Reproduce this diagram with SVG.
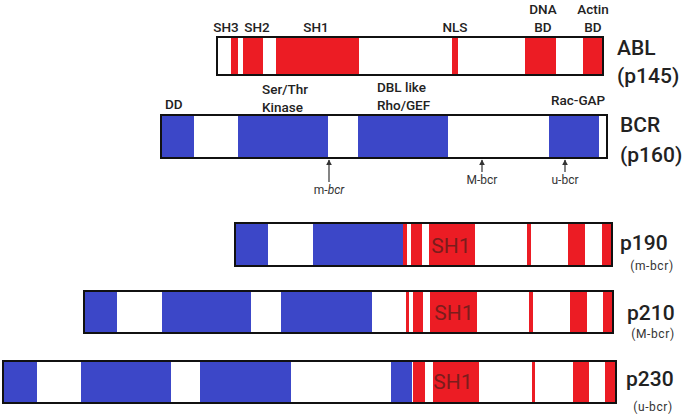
<svg xmlns="http://www.w3.org/2000/svg" width="685" height="417" viewBox="0 0 685 417">
<defs>
<style>
.bar{fill:#fff;}
.bd{fill:none;stroke:#111;stroke-width:2;}
.b{fill:#3c47c8;}
.r{fill:#ec1c24;}
.lab{font-family:Roboto,"Liberation Sans",sans-serif;font-weight:500;font-size:13.5px;fill:#222;}
.big{font-family:Roboto,"Liberation Sans",sans-serif;font-weight:500;font-size:21px;fill:#222;}
.sm{font-family:Roboto,"Liberation Sans",sans-serif;font-size:12px;fill:#333;text-anchor:middle;}
.sub{font-family:Roboto,"Liberation Sans",sans-serif;font-size:12px;fill:#333;text-anchor:middle;letter-spacing:0.6px;}
.sh1{font-family:Roboto,"Liberation Sans",sans-serif;font-size:21px;fill:#7b1c1c;text-anchor:middle;}
.arr{stroke:#333;stroke-width:1.2;fill:none;marker-end:url(#ah);}
</style>
<marker id="ah" viewBox="0 0 10 10" refX="9" refY="5" markerWidth="6" markerHeight="6" orient="auto" markerUnits="userSpaceOnUse">
<path d="M0,0 L10,5 L0,10 z" fill="#333"/>
</marker>
</defs>
<rect width="685" height="417" fill="#fff"/>

<g id="abl">
<rect class="bar" x="217" y="37" width="386" height="38"/>
<rect class="r" x="231" y="37" width="7" height="38"/>
<rect class="r" x="243" y="37" width="20" height="38"/>
<rect class="r" x="276" y="37" width="83" height="38"/>
<rect class="r" x="452" y="37" width="6" height="38"/>
<rect class="r" x="525" y="37" width="31" height="38"/>
<rect class="r" x="583" y="37" width="20" height="38"/>
<rect class="bd" x="217" y="37" width="386" height="38"/>
<text class="lab" x="226" y="32" text-anchor="middle">SH3</text>
<text class="lab" x="257" y="32" text-anchor="middle">SH2</text>
<text class="lab" x="316" y="32" text-anchor="middle">SH1</text>
<text class="lab" x="455" y="32" text-anchor="middle">NLS</text>
<text class="lab" x="543" y="14" text-anchor="middle">DNA</text>
<text class="lab" x="543" y="32" text-anchor="middle">BD</text>
<text class="lab" x="593" y="14" text-anchor="middle">Actin</text>
<text class="lab" x="593" y="32" text-anchor="middle">BD</text>
<text class="big" x="617" y="55">ABL</text>
<text class="big" x="617" y="83">(p145)</text>
</g>

<g id="bcr">
<rect class="bar" x="161" y="115" width="446" height="43"/>
<rect class="b" x="161" y="115" width="33" height="43"/>
<rect class="b" x="238" y="115" width="90" height="43"/>
<rect class="b" x="358" y="115" width="90" height="43"/>
<rect class="b" x="549" y="115" width="50" height="43"/>
<rect class="bd" x="161" y="115" width="446" height="43"/>
<text class="lab" x="165" y="109">DD</text>
<text class="lab" x="262" y="94">Ser/Thr</text>
<text class="lab" x="262" y="112">Kinase</text>
<text class="lab" x="377" y="92">DBL like</text>
<text class="lab" x="377" y="110">Rho/GEF</text>
<text class="lab" x="551" y="105">Rac-GAP</text>
<text class="big" x="620" y="132">BCR</text>
<text class="big" x="620" y="162">(p160)</text>
<text class="sm" x="329" y="194">m-<tspan font-style="italic">bcr</tspan></text>
<text class="sm" x="482" y="184">M-bcr</text>
<text class="sm" x="565" y="184">u-bcr</text>
</g>

<g id="connectors">
<line class="arr" x1="329" y1="182" x2="329" y2="160"/>
<line class="arr" x1="482" y1="172" x2="482" y2="160"/>
<line class="arr" x1="565" y1="172" x2="565" y2="160"/>
</g>

<g id="p190">
<rect class="bar" x="235" y="223" width="377" height="43"/>
<rect class="b" x="235" y="223" width="33" height="43"/>
<rect class="b" x="313" y="223" width="90" height="43"/>
<rect class="r" x="403" y="223" width="4" height="43"/>
<rect class="r" x="411" y="223" width="11" height="43"/>
<rect class="r" x="429" y="223" width="46" height="43"/>
<rect class="r" x="527" y="223" width="4" height="43"/>
<rect class="r" x="568" y="223" width="17" height="43"/>
<rect class="r" x="602" y="223" width="10" height="43"/>
<rect class="bd" x="235" y="223" width="377" height="43"/>
<text class="sh1" x="451" y="253">SH1</text>
<text class="big" x="620" y="250">p190</text>
<text class="sub" x="652" y="270">(m-bcr)</text>
</g>

<g id="p210">
<rect class="bar" x="84" y="291" width="529" height="42"/>
<rect class="b" x="84" y="291" width="33" height="42"/>
<rect class="b" x="162" y="291" width="89" height="42"/>
<rect class="b" x="281" y="291" width="91" height="42"/>
<rect class="r" x="406" y="291" width="3" height="42"/>
<rect class="r" x="413" y="291" width="10" height="42"/>
<rect class="r" x="430" y="291" width="47" height="42"/>
<rect class="r" x="529" y="291" width="4" height="42"/>
<rect class="r" x="570" y="291" width="17" height="42"/>
<rect class="r" x="603" y="291" width="10" height="42"/>
<rect class="bd" x="84" y="291" width="529" height="42"/>
<text class="sh1" x="454" y="320">SH1</text>
<text class="big" x="627" y="320">p210</text>
<text class="sub" x="653" y="338">(M-bcr)</text>
</g>

<g id="p230">
<rect class="bar" x="3" y="361" width="613" height="42"/>
<rect class="b" x="3" y="361" width="34" height="42"/>
<rect class="b" x="81" y="361" width="90" height="42"/>
<rect class="b" x="200" y="361" width="91" height="42"/>
<rect class="b" x="391" y="361" width="21" height="42"/>
<rect class="r" x="413" y="361" width="12" height="42"/>
<rect class="r" x="433" y="361" width="46" height="42"/>
<rect class="r" x="532" y="361" width="3" height="42"/>
<rect class="r" x="573" y="361" width="16" height="42"/>
<rect class="r" x="605" y="361" width="11" height="42"/>
<rect class="bd" x="3" y="361" width="613" height="42"/>
<text class="sh1" x="453" y="389">SH1</text>
<text class="big" x="626" y="386">p230</text>
<text class="sub" x="653" y="411">(u-bcr)</text>
</g>
</svg>
